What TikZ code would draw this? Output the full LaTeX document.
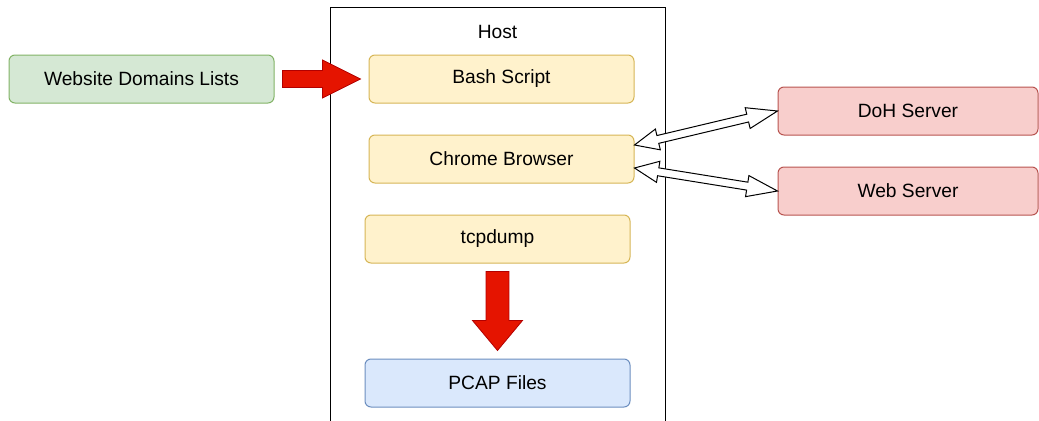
\documentclass[tikz,border=0pt]{standalone}
\usepackage{fontspec}
\setmainfont{Liberation Sans}
\usetikzlibrary{calc,positioning}

\definecolor{greenfill}{HTML}{D5E8D4}
\definecolor{greenline}{HTML}{82B366}
\definecolor{yellowfill}{HTML}{FFF2CC}
\definecolor{yellowline}{HTML}{D6B656}
\definecolor{redfill}{HTML}{F8CECC}
\definecolor{redline}{HTML}{B85450}
\definecolor{bluefill}{HTML}{DAE8FC}
\definecolor{blueline}{HTML}{6C8EBF}
\definecolor{arrowfill}{HTML}{E51400}
\definecolor{arrowline}{HTML}{B20000}

\tikzset{
  box/.style={rounded corners=4.5pt, line width=0.75pt,
    minimum width=198.75pt, minimum height=36pt,
    font=\fontsize{14.4}{17}\selectfont},
  inputbox/.style={box, draw=greenline, fill=greenfill},
  hostbox/.style={box, draw=yellowline, fill=yellowfill},
  serverbox/.style={box, draw=redline, fill=redfill, minimum width=195pt},
  outputbox/.style={box, draw=blueline, fill=bluefill},
  fatred/.style={draw=arrowline, fill=arrowfill, line width=0.6pt, line join=miter},
  flexline/.style={draw=black, fill=white, line width=0.75pt, line join=miter}
}

% fat one-headed arrow: from, to, half shaft, half head, head length
\newcommand{\fatarrow}[5]{%
  \coordinate (fa-s) at ($(#1)!6pt!(#2)$);
  \coordinate (fa-t) at ($(#2)!6pt!(#1)$);
  \coordinate (fa-h) at ($(fa-t)!#5!(fa-s)$);
  \path[fatred] ($(fa-s)!#3!90:(fa-t)$) -- ($(fa-h)!#3!90:(fa-t)$)
    -- ($(fa-h)!#4!90:(fa-t)$) -- (fa-t) -- ($(fa-h)!#4!-90:(fa-t)$)
    -- ($(fa-h)!#3!-90:(fa-t)$) -- ($(fa-s)!#3!-90:(fa-t)$) -- cycle;
}

% hollow two-headed arrow between two points
\newcommand{\flexarrow}[2]{%
  \coordinate (fx-a) at ($(#1)!18pt!(#2)$);
  \coordinate (fx-b) at ($(#2)!23pt!(#1)$);
  \path[flexline] (#1) -- ($(fx-a)!8pt!90:(#2)$) -- ($(fx-a)!3pt!90:(#2)$)
    -- ($(fx-b)!3pt!90:(#2)$) -- ($(fx-b)!8pt!90:(#2)$) -- (#2)
    -- ($(fx-b)!8pt!-90:(#2)$) -- ($(fx-b)!3pt!-90:(#2)$)
    -- ($(fx-a)!3pt!-90:(#2)$) -- ($(fx-a)!8pt!-90:(#2)$) -- cycle;
}

\begin{document}
\begin{tikzpicture}[x=0.75pt, y=-0.75pt]
  \clip (0,0) rectangle (1039,421);

  % host machine
  \draw[line width=0.75pt] (330,7) rectangle (665,440);
  \node[font=\fontsize{14.4}{17}\selectfont] (hostlabel) at (497.5,32) {Host};

  % nodes
  \node[inputbox] (domains) at (141.5,79) {Website Domains Lists};
  \node[hostbox] (bash) at (501.5,79) {Bash Script};
  \node[hostbox] (chrome) at (501.5,159) {Chrome Browser};
  \node[hostbox] (tcpdump) at (497.5,239) {tcpdump};
  \node[outputbox] (pcap) at (497.5,383) {PCAP Files};
  \node[serverbox] (doh) at (908,111) {DoH Server};
  \node[serverbox] (web) at (908,191) {Web Server};

  % red arrows
  \fatarrow{domains.east}{bash.west}{6.4pt}{14.25pt}{28.5pt}
  \fatarrow{tcpdump.south}{pcap.north}{8.6pt}{18.75pt}{22.5pt}

  % browser traffic
  \coordinate (chrome-up) at ($(chrome.east)+(0,-14)$);
  \coordinate (chrome-down) at ($(chrome.east)+(0,9)$);
  \flexarrow{chrome-up}{doh.west}
  \flexarrow{chrome-down}{web.west}
\end{tikzpicture}
\end{document}
